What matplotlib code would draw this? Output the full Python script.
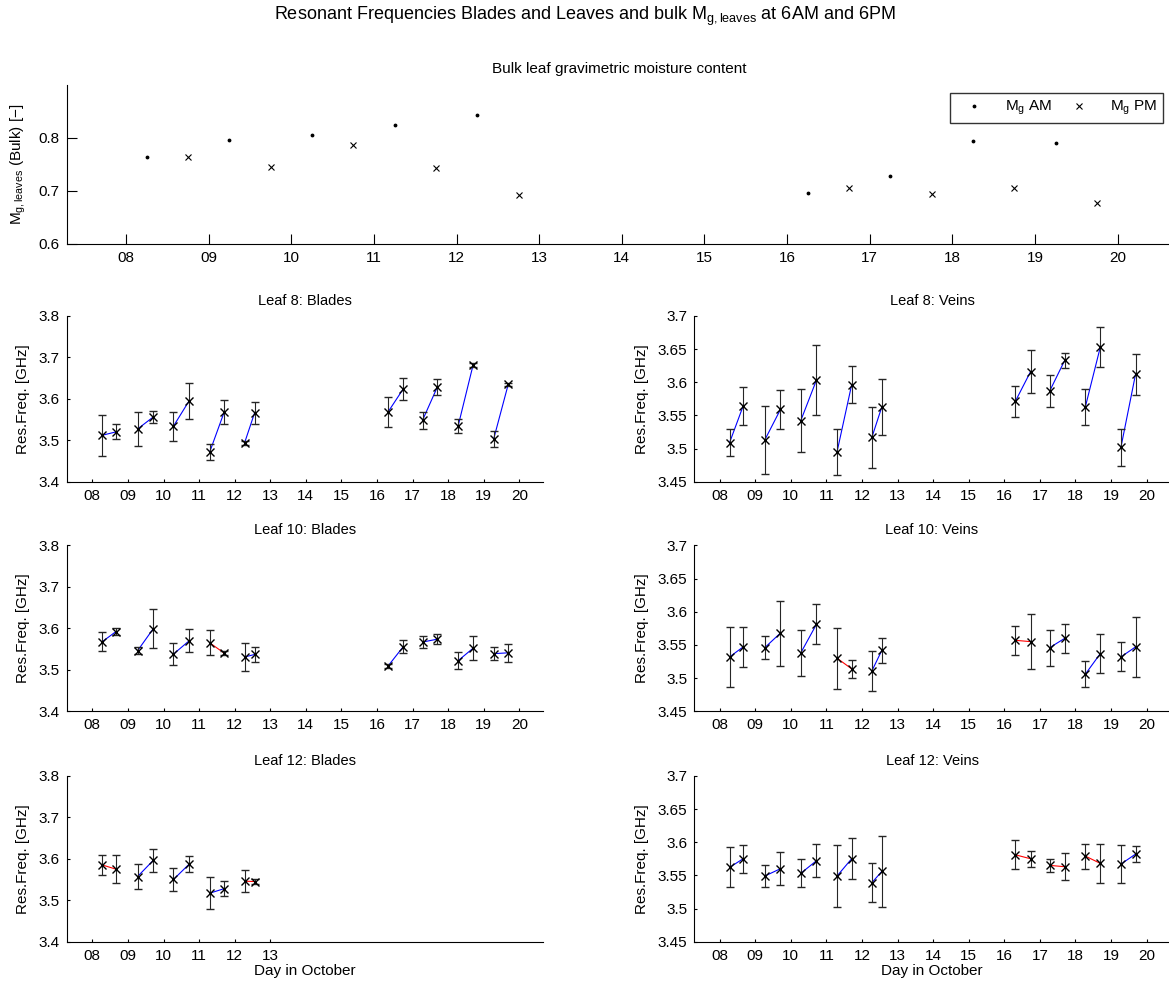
import matplotlib.pyplot as plt

plt.rcParams['font.family'] = ['Liberation Sans', 'DejaVu Sans']
plt.rcParams['mathtext.fontset'] = 'custom'
plt.rcParams['mathtext.rm'] = 'Liberation Sans'
plt.rcParams['mathtext.it'] = 'Liberation Sans:italic'
plt.rcParams['font.size'] = 11

# day ticks (October)
days = [8, 9, 10, 11, 12, 13, 14, 15, 16, 17, 18, 19, 20]

# bulk gravimetric moisture content
mg_am_t = [8.25, 9.25, 10.25, 11.25, 12.25, 16.25, 17.25, 18.25, 19.25]
mg_pm_t = [8.75, 9.75, 10.75, 11.75, 12.75, 16.75, 17.75, 18.75, 19.75]
mg_am = [0.764, 0.796, 0.805, 0.825, 0.844, 0.697, 0.729, 0.794, 0.790]
mg_pm = [0.764, 0.745, 0.786, 0.743, 0.692, 0.705, 0.694, 0.706, 0.678]

# measurement times of resonance frequency
am_t = [8.28, 9.27, 10.28, 11.30, 12.28, 16.31, 17.28, 18.28, 19.28]
pm_t = [8.66, 9.71, 10.72, 11.71, 12.56, 16.74, 17.70, 18.70, 19.69]

# Leaf 8
l8b_am = [3.512, 3.527, 3.534, 3.472, 3.494, 3.568, 3.548, 3.534, 3.503]
l8b_am_err = [0.049, 0.040, 0.035, 0.020, 0.005, 0.037, 0.020, 0.016, 0.020]
l8b_pm = [3.520, 3.556, 3.595, 3.569, 3.566, 3.624, 3.629, 3.681, 3.635]
l8b_pm_err = [0.018, 0.014, 0.043, 0.029, 0.027, 0.026, 0.019, 0.005, 0.003]

l8v_am = [3.509, 3.513, 3.542, 3.495, 3.517, 3.571, 3.587, 3.563, 3.502]
l8v_am_err = [0.020, 0.051, 0.047, 0.035, 0.046, 0.024, 0.024, 0.027, 0.028]
l8v_pm = [3.564, 3.559, 3.603, 3.596, 3.563, 3.616, 3.633, 3.653, 3.612]
l8v_pm_err = [0.028, 0.029, 0.053, 0.028, 0.042, 0.033, 0.011, 0.030, 0.031]

# Leaf 10
l10b_am = [3.568, 3.546, 3.538, 3.565, 3.531, 3.509, 3.567, 3.522, 3.539]
l10b_am_err = [0.023, 0.008, 0.026, 0.030, 0.033, 0.005, 0.014, 0.021, 0.016]
l10b_pm = [3.592, 3.599, 3.570, 3.540, 3.537, 3.556, 3.574, 3.552, 3.541]
l10b_pm_err = [0.008, 0.047, 0.028, 0.005, 0.017, 0.016, 0.012, 0.029, 0.021]

l10v_am = [3.532, 3.546, 3.538, 3.530, 3.511, 3.557, 3.546, 3.506, 3.532]
l10v_am_err = [0.045, 0.017, 0.035, 0.046, 0.030, 0.022, 0.027, 0.020, 0.022]
l10v_pm = [3.547, 3.568, 3.581, 3.514, 3.542, 3.555, 3.560, 3.537, 3.547]
l10v_pm_err = [0.030, 0.049, 0.030, 0.014, 0.019, 0.041, 0.022, 0.030, 0.045]

# Leaf 12 (blades only measured until the 12th)
l12b_am = [3.585, 3.557, 3.550, 3.517, 3.546]
l12b_am_err = [0.025, 0.030, 0.028, 0.038, 0.026]
l12b_pm = [3.575, 3.596, 3.587, 3.528, 3.545]
l12b_pm_err = [0.033, 0.027, 0.019, 0.018, 0.005]

l12v_am = [3.562, 3.549, 3.553, 3.549, 3.539, 3.581, 3.565, 3.579, 3.567]
l12v_am_err = [0.030, 0.016, 0.021, 0.047, 0.029, 0.022, 0.010, 0.019, 0.028]
l12v_pm = [3.575, 3.560, 3.572, 3.575, 3.556, 3.575, 3.563, 3.568, 3.582]
l12v_pm_err = [0.021, 0.025, 0.025, 0.031, 0.054, 0.012, 0.020, 0.029, 0.012]

blade_ticks = [3.4, 3.5, 3.6, 3.7, 3.8]
vein_ticks = [3.45, 3.5, 3.55, 3.6, 3.65, 3.7]

XLIM = (7.28, 20.66)


def style(ax, ticklen):
    for s in ['top', 'right']:
        ax.spines[s].set_visible(False)
    for s in ['left', 'bottom']:
        ax.spines[s].set_linewidth(0.8)
    ax.tick_params(direction='in', length=ticklen, width=0.8, top=False, right=False,
                   labelsize=11, pad=5)


def panel(ax, title, am, am_err, pm, pm_err, yticks, xticks, xlabel=False):
    n = len(am)
    for i in range(n):
        col = 'b' if pm[i] >= am[i] else 'r'
        ax.plot([am_t[i], pm_t[i]], [am[i], pm[i]], color=col, lw=0.8, zorder=1)
    for t, v, e in [(am_t[:n], am, am_err), (pm_t[:n], pm, pm_err)]:
        ax.errorbar(t, v, yerr=e, fmt='x', color='k', ecolor='0.15', elinewidth=0.8,
                    capsize=3, capthick=0.8, markersize=6, mew=1.0, zorder=2)
    ax.set_xlim(*XLIM)
    ax.set_ylim(yticks[0], yticks[-1])
    ax.set_yticks(yticks)
    ax.set_yticklabels(['%g' % y for y in yticks])
    ax.set_xticks(xticks)
    ax.set_xticklabels(['%02d' % d for d in xticks])
    ax.set_title(title, fontsize=10.5, pad=8)
    ax.set_ylabel('Res.Freq. [GHz]', fontsize=11, labelpad=6)
    if xlabel:
        ax.set_xlabel('Day in October', fontsize=11, labelpad=1)
    style(ax, 2.5)


fig = plt.figure(figsize=(11.69, 9.85), dpi=100)
fig.text(0.5, 1 - 16 / 985,
         r'Resonant Frequencies Blades and Leaves and bulk M$_{\mathrm{g,leaves}}$ at 6AM and 6PM',
         ha='center', va='center', fontsize=13)

# top panel
ax0 = fig.add_axes([0.0571, 0.7523, 0.9455, 0.1614])
ax0.plot(mg_am_t, mg_am, '.', color='k', markersize=3.5, label=r'M$_\mathrm{g}$ AM')
ax0.plot(mg_pm_t, mg_pm, 'x', color='k', markersize=5, mew=0.8, label=r'M$_\mathrm{g}$ PM')
ax0.set_xlim(*XLIM)
ax0.set_ylim(0.6, 0.9)
ax0.set_yticks([0.6, 0.7, 0.8])
ax0.set_yticklabels(['0.6', '0.7', '0.8'])
ax0.set_xticks(days)
ax0.set_xticklabels(['%02d' % d for d in days])
ax0.set_title('Bulk leaf gravimetric moisture content', fontsize=11, pad=9)
ax0.set_ylabel(r'M$_{\mathrm{g,leaves}}$ (Bulk) [$-$]', fontsize=11, labelpad=8)
style(ax0, 7)
leg = ax0.legend(loc='upper right', bbox_to_anchor=(0.992, 0.950), borderaxespad=0,
                 ncol=2, handlelength=2.4, handletextpad=0.8, columnspacing=0.6,
                 borderpad=0.4, fancybox=False, edgecolor='k', fontsize=11, numpoints=1)
leg.get_frame().set_linewidth(1.0)

W = 0.4072
H = 165.8 / 985
lefts = [0.0571, 0.5937]
bottoms = [0.5110, 0.2779, 0.0440]

ax = fig.add_axes([lefts[0], bottoms[0], W, H])
panel(ax, 'Leaf 8: Blades', l8b_am, l8b_am_err, l8b_pm, l8b_pm_err, blade_ticks, days)
ax = fig.add_axes([lefts[1], bottoms[0], W, H])
panel(ax, 'Leaf 8: Veins', l8v_am, l8v_am_err, l8v_pm, l8v_pm_err, vein_ticks, days)
ax = fig.add_axes([lefts[0], bottoms[1], W, H])
panel(ax, 'Leaf 10: Blades', l10b_am, l10b_am_err, l10b_pm, l10b_pm_err, blade_ticks, days)
ax = fig.add_axes([lefts[1], bottoms[1], W, H])
panel(ax, 'Leaf 10: Veins', l10v_am, l10v_am_err, l10v_pm, l10v_pm_err, vein_ticks, days)
ax = fig.add_axes([lefts[0], bottoms[2], W, H])
panel(ax, 'Leaf 12: Blades', l12b_am, l12b_am_err, l12b_pm, l12b_pm_err, blade_ticks,
      days[:6], xlabel=True)
ax = fig.add_axes([lefts[1], bottoms[2], W, H])
panel(ax, 'Leaf 12: Veins', l12v_am, l12v_am_err, l12v_pm, l12v_pm_err, vein_ticks, days,
      xlabel=True)

fig.savefig('out.png', dpi=100)
